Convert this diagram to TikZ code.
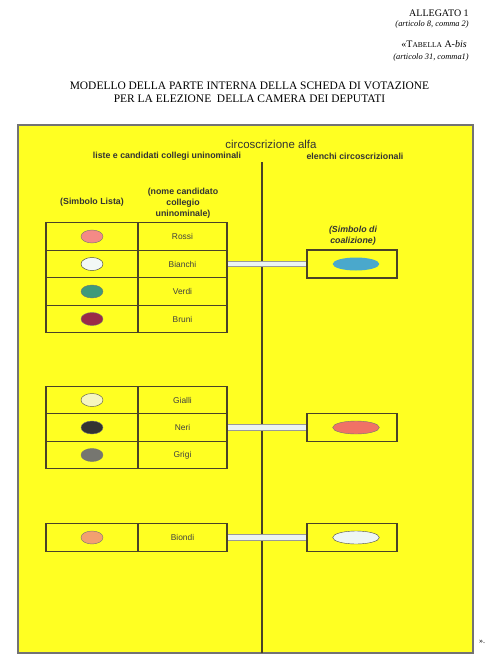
\documentclass[tikz,border=0pt]{standalone}
\usepackage{fontspec}
\setmainfont{Liberation Serif}
\newfontfamily\arialfont{Liberation Sans}
\usepackage{tikz}
\usetikzlibrary{shapes.geometric}

\definecolor{giallo}{RGB}{255,255,34}
\definecolor{linea}{RGB}{74,66,40}

\begin{document}
\begin{tikzpicture}[x=0.75pt,y=0.75pt,yscale=-1,xscale=1,
    cella/.style={draw=linea,line width=0.9pt,inner sep=0pt,minimum height=20.5pt},
    simbolo/.style={cella,minimum width=69pt},
    nome/.style={cella,minimum width=66.75pt,font=\arialfont\fontsize{6.3}{7.5}\selectfont,text=black!75},
    coal/.style={draw=linea,line width=0.9pt,inner sep=0pt,minimum width=67.5pt,minimum height=21pt},
    pallino/.style={ellipse,draw=black!55,line width=0.3pt,inner sep=0pt,minimum width=16.5pt,minimum height=9.75pt},
    ovale/.style={pallino,minimum width=35pt},
    barra/.style={draw=black!40,line width=0.5pt,double={rgb,255:red,236;green,244;blue,242},double distance=3.6pt},
    testa/.style={inner sep=0.75pt,font=\arialfont\bfseries\fontsize{6.6}{8.2}\selectfont,text=black!80,align=center}
]
\useasboundingbox (0,0) rectangle (494,668);

% intestazione
\draw (470,13) node (alleg) [anchor=east,inner sep=0.75pt,font=\fontsize{7.5}{9}\selectfont] {ALLEGATO 1};
\draw (470,24) node (art8) [anchor=east,inner sep=0.75pt,font=\itshape\fontsize{6.3}{8}\selectfont] {(articolo 8, comma 2)};
\draw (468,44) node (tab) [anchor=east,inner sep=0.75pt,font=\fontsize{7.5}{9}\selectfont] {«T{\fontsize{5.6}{7}\selectfont ABELLA} A-\textit{bis}};
\draw (470,57) node (art31) [anchor=east,inner sep=0.75pt,font=\itshape\fontsize{6.3}{8}\selectfont] {(articolo 31, comma1)};
\draw (249.5,92) node (titolo) [inner sep=0.75pt,align=center,font=\fontsize{8.6}{9.4}\selectfont] {MODELLO DELLA PARTE INTERNA DELLA SCHEDA DI VOTAZIONE\\PER LA ELEZIONE \ DELLA CAMERA DEI DEPUTATI};

% scheda
\draw [draw=black!55,line width=0.9pt,fill=giallo] (18,125) rectangle (473,653);
\draw [draw=linea,line width=0.9pt] (262,162) -- (262,653);

\draw (271,144) node (circ) [inner sep=0.75pt,font=\arialfont\fontsize{8.6}{10}\selectfont,text=black!80] {circoscrizione alfa};
\draw (167,156) node (liste) [testa] {liste e candidati collegi uninominali};
\draw (355,156) node (elenchi) [testa] {elenchi circoscrizionali};
\draw (92,202) node (simblista) [testa] {(Simbolo Lista)};
\draw (183,203) node (nomecand) [testa] {(nome candidato\\collegio\\uninominale)};
\draw (353,236) node (simbcoal) [testa,font=\arialfont\bfseries\itshape\fontsize{6.6}{8.2}\selectfont] {(Simbolo di\\coalizione)};

% primo gruppo
\draw (92,236.5) node (s1) [simbolo] {};
\draw (92,264) node (s2) [simbolo] {};
\draw (92,291.5) node (s3) [simbolo] {};
\draw (92,319) node (s4) [simbolo] {};
\draw (182.5,236.5) node (n1) [nome] {Rossi};
\draw (182.5,264) node (n2) [nome] {Bianchi};
\draw (182.5,291.5) node (n3) [nome] {Verdi};
\draw (182.5,319) node (n4) [nome] {Bruni};
\draw (s1.center) node (p1) [pallino,fill={rgb,255:red,244;green,138;blue,134}] {};
\draw (s2.center) node (p2) [pallino,fill={rgb,255:red,242;green,248;blue,246},draw=black!80] {};
\draw (s3.center) node (p3) [pallino,fill={rgb,255:red,63;green,154;blue,122}] {};
\draw (s4.center) node (p4) [pallino,fill={rgb,255:red,154;green,42;blue,72}] {};
\draw (352,264) node (c1) [coal] {};
\draw (356,264) node (o1) [ovale,fill={rgb,255:red,74;green,168;blue,204},draw=none] {};
\draw [barra] (n2.east) -- (c1.west);

% secondo gruppo
\draw (92,400) node (s5) [simbolo] {};
\draw (92,427.5) node (s6) [simbolo] {};
\draw (92,455) node (s7) [simbolo] {};
\draw (182.5,400) node (n5) [nome] {Gialli};
\draw (182.5,427.5) node (n6) [nome] {Neri};
\draw (182.5,455) node (n7) [nome] {Grigi};
\draw (s5.center) node (p5) [pallino,fill={rgb,255:red,246;green,246;blue,192},draw=black!70] {};
\draw (s6.center) node (p6) [pallino,fill={rgb,255:red,50;green,50;blue,50}] {};
\draw (s7.center) node (p7) [pallino,fill={rgb,255:red,118;green,118;blue,112}] {};
\draw (352,427.5) node (c2) [coal] {};
\draw (356,427.5) node (o2) [ovale,fill={rgb,255:red,240;green,114;blue,102}] {};
\draw [barra] (n6.east) -- (c2.west);

% terzo gruppo
\draw (92,537.5) node (s8) [simbolo] {};
\draw (182.5,537.5) node (n8) [nome] {Biondi};
\draw (s8.center) node (p8) [pallino,fill={rgb,255:red,242;green,160;blue,112}] {};
\draw (352,537.5) node (c3) [coal] {};
\draw (356,537.5) node (o3) [ovale,fill={rgb,255:red,238;green,246;blue,244},draw=black!70] {};
\draw [barra] (n8.east) -- (c3.west);

\draw (482,642) node (chiusa) [inner sep=0.75pt,font=\fontsize{6}{7}\selectfont] {».};
\end{tikzpicture}
\end{document}
